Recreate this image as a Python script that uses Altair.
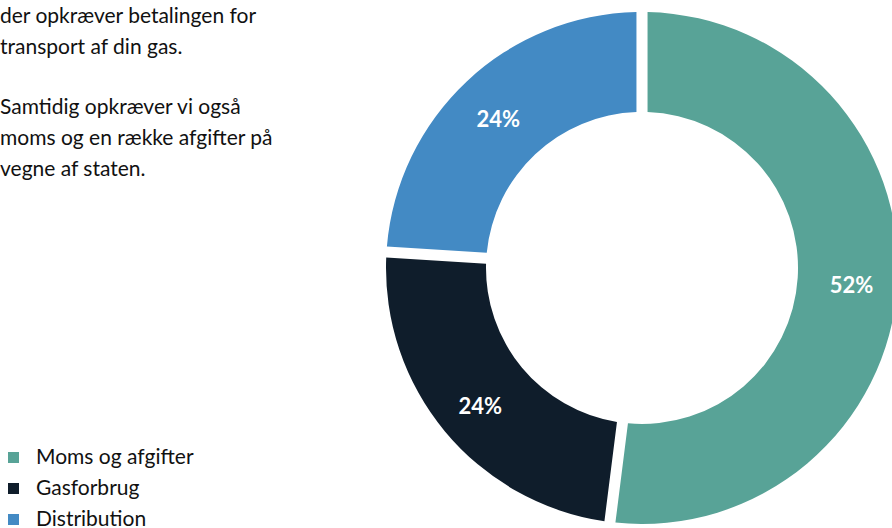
import altair as alt
import pandas as pd

categories = ["Moms og afgifter", "Gasforbrug", "Distribution"]
shares = [52, 24, 24]
labels = ["52%", "24%", "24%"]
order = [1, 2, 3]
colors = ["#58a397", "#0f1d2b", "#438ac4"]

para1_lines = [
    "der opkræver betalingen for",
    "transport af din gas.",
]
para2_lines = [
    "Samtidig opkræver vi også",
    "moms og en række afgifter på",
    "vegne af staten.",
]

FONT = "Lato"
CX, CY = 642, 268

df = pd.DataFrame({"kategori": categories, "andel": shares, "label": labels, "rk": order})

base = alt.Chart(df).encode(
    theta=alt.Theta("andel:Q", stack=True),
    order=alt.Order("rk:Q"),
)

arcs = base.mark_arc(innerRadius=156, outerRadius=256, padAngle=0.037).encode(
    x=alt.value(CX),
    y=alt.value(CY),
    color=alt.Color(
        "kategori:N",
        scale=alt.Scale(domain=categories, range=colors),
        legend=alt.Legend(
            title=None,
            orient="none",
            legendX=3,
            legendY=447,
            symbolType="square",
            symbolSize=121,
            symbolStrokeWidth=0,
            labelFontSize=21,
            labelFont=FONT,
            labelColor="#111111",
            labelOffset=12,
            rowPadding=9,
        ),
    ),
)

pct = base.mark_text(
    radius=210, fontSize=22, fontWeight="bold", color="white", font=FONT, dy=5
).encode(x=alt.value(CX), y=alt.value(CY), text="label:N")

one = pd.DataFrame({"a": [0]})
para_style = dict(
    align="left", baseline="alphabetic", fontSize=21, lineHeight=30.8, font=FONT, color="#111111"
)
para1 = alt.Chart(one).mark_text(text=para1_lines, **para_style).encode(
    x=alt.value(0), y=alt.value(23)
)
para2 = alt.Chart(one).mark_text(text=para2_lines, **para_style).encode(
    x=alt.value(0), y=alt.value(114)
)

chart = (
    alt.layer(arcs, pct, para1, para2)
    .properties(width=892, height=528, padding=0, autosize=alt.AutoSizeParams(type="none"))
    .configure_view(stroke=None)
)

chart.save("out.html", embed_options={"renderer": "svg", "actions": False})
